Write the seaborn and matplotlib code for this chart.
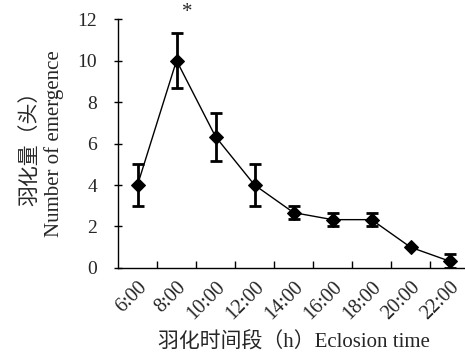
import numpy as np
import pandas as pd
import matplotlib
matplotlib.use('Agg')
import matplotlib.pyplot as plt
import seaborn as sns

times = ['6:00', '8:00', '10:00', '12:00', '14:00', '16:00', '18:00', '20:00', '22:00']
emergence = [4.0, 10.0, 6.33, 4.0, 2.67, 2.33, 2.33, 1.0, 0.33]
err = [1.0, 1.33, 1.15, 1.0, 0.33, 0.33, 0.33, 0.0, 0.33]

df = pd.DataFrame({'idx': np.arange(len(times)), 'n': emergence, 'err': err})

sns.set_style("white")
plt.rcParams['font.family'] = ['Liberation Serif', 'Noto Sans CJK SC']
plt.rcParams['font.size'] = 14

fig = plt.figure(figsize=(4.65, 3.56), dpi=100)
ax = fig.add_axes([0.2538, 0.2472, 0.755, 0.6994])

ax.errorbar(df['idx'], df['n'], yerr=df['err'], fmt='none', ecolor='black',
            elinewidth=2, capsize=4.5, capthick=2, zorder=2)
sns.lineplot(data=df, x='idx', y='n', color='black', linewidth=1,
             marker='D', markersize=7, markeredgecolor='black', ax=ax, zorder=3)

ax.text(1.27, 12.3, '*', ha='center', va='center', fontsize=15, clip_on=False)

ax.set_xlim(-0.5, 8.5)
ax.set_ylim(0, 12)
ax.set_yticks(range(0, 13, 2))
ax.set_xticks(df['idx'])
ax.set_xticklabels(times, rotation=45, ha='right', rotation_mode='anchor', fontsize=14.5)
ax.set_xticks(np.arange(0.5, 8.5, 1), minor=True)
ax.tick_params(axis='x', which='major', length=0, pad=7)
ax.tick_params(axis='x', which='minor', direction='in', length=5, width=1, color='black', bottom=True)
ax.tick_params(axis='y', direction='inout', length=6, width=1, color='black', left=True, pad=12)

ax.set_xlabel('羽化时间段（h）Eclosion time', fontsize=15, labelpad=6)
ax.set_ylabel('羽化量（头）\nNumber of emergence', fontsize=15, labelpad=10, linespacing=1.25)

sns.despine(ax=ax)
for s in ['left', 'bottom']:
    ax.spines[s].set_color('black')
    ax.spines[s].set_linewidth(1)

fig.savefig('out.png', dpi=100)
